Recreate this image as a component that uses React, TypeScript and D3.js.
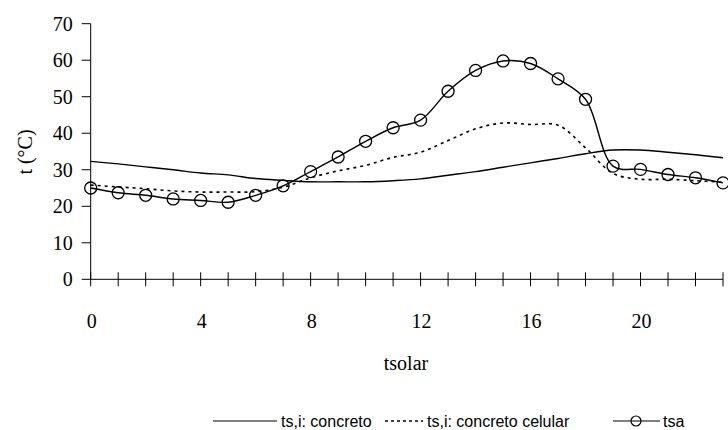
import React from "react";
import * as d3 from "d3";

// hora solar 0..23
const hours = d3.range(0, 24);

// ts,i: concreto
const concreto = [32.3, 31.6, 30.8, 30.0, 29.1, 28.6, 27.6, 27.1, 26.7, 26.7, 26.7, 27.0,
  27.5, 28.5, 29.5, 30.7, 31.9, 33.1, 34.4, 35.4, 35.4, 34.8, 34.1, 33.3];

// ts,i: concreto celular
const concretoCelular = [25.8, 25.3, 24.8, 24.2, 23.9, 23.9, 24.0, 25.2, 27.8, 29.7, 31.2, 33.4,
  34.8, 38.0, 41.2, 42.8, 42.4, 42.2, 36.0, 29.0, 27.4, 27.4, 27.0, 26.6];

// tsa
const tsa = [25.0, 23.7, 23.0, 22.0, 21.6, 21.1, 23.0, 25.6, 29.5, 33.5, 37.8, 41.5,
  43.6, 51.5, 57.2, 59.8, 59.1, 54.9, 49.3, 31.0, 30.1, 28.7, 27.8, 26.4];

const yTicks = [0, 10, 20, 30, 40, 50, 60, 70];
const xLabels = [0, 4, 8, 12, 16, 20];

const serif = "'Liberation Serif', 'Times New Roman', serif";
const sans = "'Liberation Sans', Arial, sans-serif";

export default function App() {
  const width = 728;
  const height = 430;

  const x = d3.scaleLinear().domain([0, 23]).range([90.7, 723]);
  const y = d3.scaleLinear().domain([0, 70]).range([279.3, 23.7]);

  const line = d3
    .line<number>()
    .x((d, i) => x(hours[i]))
    .y((d) => y(d))
    .curve(d3.curveCatmullRom.alpha(0.5));

  const legendY = 421;

  return (
    <svg
      width={width}
      height={height}
      style={{ position: "absolute", left: 0, top: 0, background: "#fff" }}
    >
      {/* y axis */}
      <line x1={x(0)} x2={x(0)} y1={y(70)} y2={y(0)} stroke="#000" strokeWidth={1} />
      {yTicks.map((t) => (
        <g key={"y" + t}>
          <line x1={x(0) - 9} x2={x(0)} y1={y(t)} y2={y(t)} stroke="#000" />
          <text
            x={x(0) - 18}
            y={y(t)}
            dy="0.35em"
            textAnchor="end"
            fontFamily={serif}
            fontSize={20}
          >
            {t}
          </text>
        </g>
      ))}

      {/* x axis */}
      <line x1={x(0)} x2={x(23)} y1={y(0)} y2={y(0)} stroke="#000" />
      {hours.map((h) => (
        <line key={"xt" + h} x1={x(h)} x2={x(h)} y1={y(0) - 7} y2={y(0) + 7} stroke="#000" />
      ))}
      {xLabels.map((h) => (
        <text
          key={"xl" + h}
          x={x(h) + 1}
          y={328}
          textAnchor="middle"
          fontFamily={serif}
          fontSize={20}
        >
          {h}
        </text>
      ))}

      <text x={406} y={370} textAnchor="middle" fontFamily={serif} fontSize={20}>
        tsolar
      </text>
      <text
        transform={`translate(32,152) rotate(-90)`}
        textAnchor="middle"
        fontFamily={serif}
        fontSize={20}
      >
        t (°C)
      </text>

      {/* series */}
      <path d={line(concreto) ?? ""} fill="none" stroke="#000" strokeWidth={1.4} />
      <path
        d={line(concretoCelular) ?? ""}
        fill="none"
        stroke="#000"
        strokeWidth={1.6}
        strokeDasharray="3,4"
      />
      <path d={line(tsa) ?? ""} fill="none" stroke="#000" strokeWidth={1.4} />
      {tsa.map((v, i) => (
        <circle key={"c" + i} cx={x(hours[i])} cy={y(v)} r={6} fill="none" stroke="#000" strokeWidth={1.3} />
      ))}

      {/* legend */}
      <g fontFamily={sans} fontSize={16}>
        <line x1={213} x2={277} y1={legendY} y2={legendY} stroke="#000" strokeWidth={1.2} />
        <text x={281} y={legendY} dy="0.35em">ts,i: concreto</text>
        <line x1={385} x2={423} y1={legendY} y2={legendY} stroke="#000" strokeWidth={1.4} strokeDasharray="3,3" />
        <text x={427} y={legendY} dy="0.35em">ts,i: concreto celular</text>
        <line x1={613} x2={660} y1={legendY} y2={legendY} stroke="#000" strokeWidth={1.2} />
        <circle cx={636} cy={legendY} r={5} fill="none" stroke="#000" strokeWidth={1.2} />
        <text x={663} y={legendY} dy="0.35em">tsa</text>
      </g>
    </svg>
  );
}
